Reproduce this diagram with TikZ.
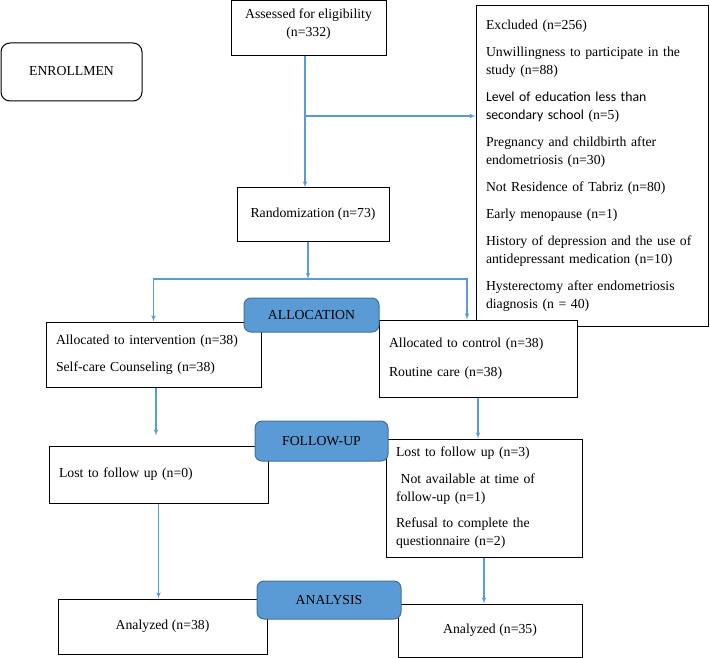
\documentclass[tikz,border=0pt]{standalone}
\usepackage{fontspec}
\setmainfont{Liberation Serif}
\newfontfamily\calibri{Carlito}
\usepackage{tikz}
\usetikzlibrary{calc}
\usetikzlibrary{arrows}
\tikzset{>=latex'}
\definecolor{flowblue}{HTML}{5B9BD5}
\definecolor{phaseedge}{HTML}{41719C}
\tikzset{box/.style={draw,fill=white,line width=1pt,inner xsep=10pt}}
\tikzset{phase/.style={draw=phaseedge,fill=flowblue,rounded corners=7pt,line width=1pt}}
\tikzset{flow/.style={->,draw=flowblue,line width=1.1pt}}

\begin{document}
\begin{tikzpicture}[x=1pt,y=-1pt,font=\fontsize{13.75}{18}\selectfont]
	\useasboundingbox (0,0) rectangle (710,658);
	\node[box,rounded corners=9pt,minimum width=141pt,minimum height=58pt] (enroll) at (71.5,72) {ENROLLMEN\vphantom{\strut}\\[4pt]};
	\node[box,align=center,minimum width=155pt,minimum height=55pt] (assess) at (308.5,28.5) {Assessed for eligibility\\(n=332)\\[-6pt]};
	\node[box,align=left,text width=212pt,minimum height=320pt] (excl) at (592,166) {Excluded (n=256)\\[9pt]
		Unwillingness to participate in the\\study (n=88)\\[9pt]
		{\calibri Level of education less than}\\{\calibri secondary school} (n=5)\\[9pt]
		Pregnancy and childbirth after\\endometriosis (n=30)\\[9pt]
		Not Residence of Tabriz (n=80)\\[9pt]
		Early menopause (n=1)\\[9pt]
		History of depression and the use of\\antidepressant medication (n=10)\\[9pt]
		Hysterectomy after endometriosis\\diagnosis (n = 40)\\[-6pt]};
	\node[box,minimum width=152pt,minimum height=53pt] (random) at (313,214.5) {Randomization (n=73)};
	\node[box,align=left,text width=195pt,minimum height=65pt] (grp1 alloc) at (153.5,354.5) {Allocated to intervention (n=38)\\[9pt]Self-care Counseling (n=38)};
	\node[box,align=left,text width=178pt,minimum height=77pt] (grp2 alloc) at (478,358.5) {Allocated to control (n=38)\\[11pt]Routine care (n=38)\\[-6pt]};
	\node[box,align=left,text width=199pt,minimum height=57pt] (grp1 lost) at (158.5,474.5) {Lost to follow up (n=0)};
	\node[box,align=left,text width=176pt,minimum height=118pt] (grp2 lost) at (484,498) {Lost to follow up (n=3)\\[9pt]
		\ Not available at time of\\follow-up (n=1)\\[8pt]
		Refusal to complete the\\questionnaire (n=2)};
	\node[box,minimum width=209pt,minimum height=55pt] (grp1 anal) at (162.5,626.5) {Analyzed (n=38)};
	\node[box,minimum width=184pt,minimum height=53pt] (grp2 anal) at (490,630.5) {Analyzed (n=35)};
	\node[phase,minimum width=135pt,minimum height=34pt] (alloc) at (311.5,315) {ALLOCATION};
	\node[phase,minimum width=133pt,minimum height=40pt] (follow) at (321.5,441) {FOLLOW-UP};
	\node[phase,minimum width=144pt,minimum height=38pt] (analysis) at (329,600) {ANALYSIS};
	\coordinate (branch) at (305,116);
	\coordinate (split) at (308,279);
	\draw[flow] (assess.south -| branch) -- (branch |- random.north);
	\draw[flow] (branch) -- (branch -| excl.west);
	\draw[flow] (random.south -| split) -- (split);
	\draw[flow] (split) -| (grp1 alloc.north);
	\draw[flow] (split) -| ([xshift=-11pt]grp2 alloc.north);
	\draw[flow,shorten >=10pt] ([xshift=2.5pt]grp1 alloc.south) -- ([xshift=2.5pt]grp1 alloc.south |- grp1 lost.north);
	\draw[flow] (grp2 alloc.south) -- (grp2 alloc.south |- grp2 lost.north);
	\draw[flow] (grp1 lost.south) -- (grp1 lost.south |- grp1 anal.north);
	\draw[flow] (grp2 lost.south) -- (grp2 lost.south |- grp2 anal.north);
\end{tikzpicture}
\end{document}
